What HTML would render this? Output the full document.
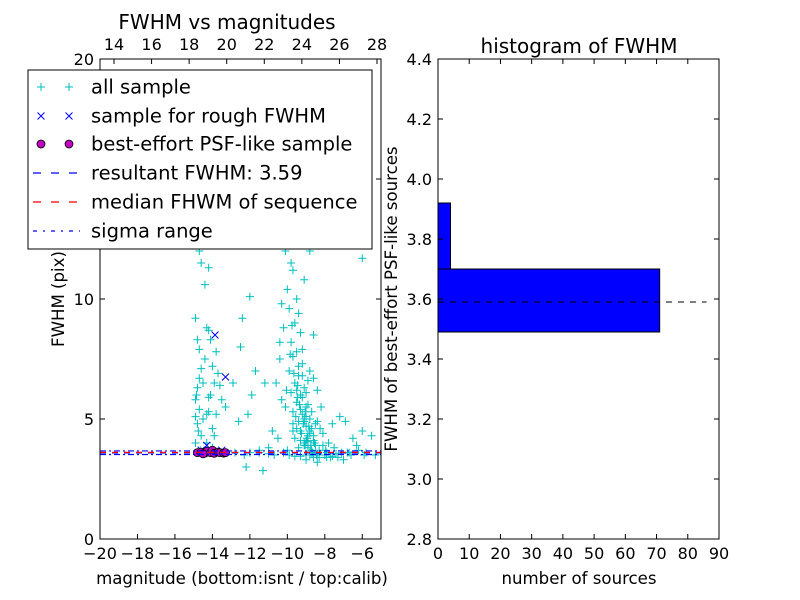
<!DOCTYPE html>
<html><head><meta charset="utf-8"><style>
body{margin:0;background:#fff;}
svg{display:block;font-family:"DejaVu Sans","Liberation Sans",sans-serif;}
</style></head><body>
<svg id="chart" width="800" height="600" viewBox="0 0 800 600">
<rect x="0" y="0" width="800" height="600" fill="#fff"/>
<g id="left"></g>
<g id="right"></g>
</svg>
<script>
const NS="http://www.w3.org/2000/svg";
// ---- data: left panel ----
const allMag=[-14.7,-14.6,-14.9,-14.8,-14.7,-14.5,-14.8,-14.9,-14.7,-14.8,-14.6,-14.9,-14.3,-14.2,-14.1,-13.8,-14.0,-14.4,-13.9,-14.1,-13.6,-13.5,-14.3,-13.8,-14.0,-13.3,-14.2,-14.5,-14.6,-13.7,-14.3,-14.4,-14.2,
-12.0,-12.5,-11.7,-12.4,-11.9,-12.1,-11.2,-12.6,-12.2,-11.5,-11.3,-12.9,
-10.1,-9.8,-9.7,-10.0,-9.5,-9.9,-9.4,-9.6,-10.2,-9.3,-9.8,-9.5,-9.7,-9.2,-9.9,-9.4,-9.6,-9.1,-9.8,-9.3,-9.5,-9.0,-9.7,-9.2,-8.8,-9.4,-9.0,-8.7,-9.3,-8.9,-9.6,-8.6,-9.1,-8.5,-8.9,-8.3,-9.4,-8.1,-7.8,-7.5,-8.0,-7.3,-8.6,-9.0,-7.0,-6.5,-6.3,-6.0,-6.8,-7.6,-8.2,-8.4,-8.8,-8.6,-10.5,-10.3,-10.6,-10.4,-10.8,-11.0,-10.0,-10.7,-11.5,-12.8,-12.3,-9.2,-9.0,-8.9,-9.1,-8.7,-9.5,-9.3,-8.8,-9.7,-10.1,-10.3,-9.1,-8.8,-6.0,-5.5,-5.3,-6.2,-5.8,-7.2,-6.9,-8.4,
-9.2,-9.0,-8.8,-9.4,-8.5,-9.1,-8.9,-8.7,-9.3,-8.6,-9.0,-8.4,-9.5,-9.2,-8.7,-9.0,-8.3,-8.8,-9.1,-8.6,-10.2,-9.9,-7.9,-7.7,-8.1,-6.6,-7.1,-12.0,-11.0,-10.2,-9.6,-8.0,-7.4,-6.7,-5.9,
-9.35,-9.15,-8.95,-8.75,-9.45,-9.05,-8.85,-9.25,-8.65,-8.45,-9.55,-9.65,-8.55,-8.25,-7.95,-9.85,-9.75,-10.05,-9.45,-9.05,-8.8,-9.3,-8.9,-8.4,-7.6,-7.9,-9.7,-10.4,-14.85,-14.75,-14.65,-14.9,-14.7,-13.9,-14.2,-14.0];
const allFwhm=[12.0,11.5,9.2,8.3,7.9,6.5,6.3,5.8,5.4,4.8,4.3,4.0,8.8,8.7,8.3,7.8,7.2,7.5,6.5,6.0,6.4,5.8,5.2,5.2,4.6,5.5,5.9,5.0,7.1,6.9,4.0,10.6,11.3,
10.1,8.0,7.0,9.2,6.0,5.2,6.5,4.9,3.0,3.7,2.85,6.5,
12.0,11.5,11.2,10.4,10.0,9.6,9.4,9.0,8.8,8.6,8.2,7.8,7.6,7.3,7.0,6.8,6.5,6.3,6.1,6.0,5.7,5.5,5.3,5.2,5.0,4.9,4.7,4.6,4.5,4.3,4.2,4.1,4.0,3.9,3.8,3.7,3.8,4.4,4.0,3.8,3.5,3.4,3.4,3.3,3.3,4.2,3.9,4.5,3.6,4.8,5.5,6.2,7.0,8.5,4.2,5.8,6.5,7.5,4.5,3.8,3.7,3.5,3.6,3.6,3.5,6.8,6.1,5.6,4.9,5.3,4.6,4.1,4.5,4.8,5.5,9.8,10.8,12.0,11.7,4.3,3.5,3.7,3.6,5.1,4.9,3.2,
5.9,5.1,4.4,7.2,4.8,3.9,6.6,3.6,5.4,4.3,3.5,4.9,6.2,7.9,3.7,4.1,3.4,3.5,5.0,6.7,3.6,3.5,3.6,3.4,3.9,3.5,3.6,3.6,3.55,3.6,3.45,3.5,3.55,3.6,3.5,
5.6,4.8,4.2,3.9,6.4,5.3,4.7,4.4,3.6,3.5,5.1,6.9,4.0,4.6,3.7,7.7,8.9,6.2,5.9,3.9,3.6,3.45,4.05,3.55,3.45,3.4,4.5,8.2,6.0,4.5,3.7,5.1,6.7,4.3,5.3,3.8];
const roughMag=[-13.86,-13.3,-14.3,-14.6,-13.5];
const roughFwhm=[8.5,6.75,3.9,3.7,3.7];
const bestMag=[-14.8,-14.6,-14.4,-14.3,-14.1,-14.0,-13.9,-13.7,-13.6,-13.4,-13.3,-14.5];
const bestFwhm=[3.6,3.62,3.58,3.65,3.6,3.7,3.57,3.62,3.6,3.58,3.6,3.55];
const resultFwhm=3.59, medianFwhm=3.61, sigmaLo=3.52, sigmaHi=3.67;
const xTicks=[-20,-18,-16,-14,-12,-10,-8,-6];
const yTicks=[0,5,10,15,20];
const topTicks=[14,16,18,20,22,24,26,28];
// ---- data: histogram ----
const binEdges=[3.49,3.70,3.92];
const binCounts=[71,4];
const hxTicks=[0,10,20,30,40,50,60,70,80,90];
const hyTicks=[2.8,3.0,3.2,3.4,3.6,3.8,4.0,4.2,4.4];
const hLineEnd=86;

function el(tag,attrs,parent,text){const e=document.createElementNS(NS,tag);for(const k in attrs)e.setAttribute(k,attrs[k]);if(text!==undefined)e.textContent=text;parent.appendChild(e);return e;}
const L={x0:100,x1:381,y0:539,y1:59};
const lx=m=>L.x0+(m+20)/15*(L.x1-L.x0);
const ly=f=>L.y0-f/20*(L.y0-L.y1);
const tx=t=>114+(t-14)*(377-114)/14;
const gl=document.getElementById('left');
allMag.forEach((m,i)=>{const x=lx(m),y=ly(allFwhm[i]);
 const p=el('path',{d:`M${x-4},${y}h8M${x},${y-4}v8`,stroke:'#00bfbf','stroke-width':1},gl);
 
 });
roughMag.forEach((m,i)=>{const x=lx(m),y=ly(roughFwhm[i]);
 const p=el('path',{d:`M${x-3.5},${y-3.5}l7,7M${x-3.5},${y+3.5}l7,-7`,stroke:'#0000ff','stroke-width':1},gl);
 
 });
bestMag.forEach((m,i)=>{
 const c=el('circle',{cx:lx(m),cy:ly(bestFwhm[i]),r:4,fill:'#bf00bf',stroke:'#000','stroke-width':0.8},gl);
 
 });
function hline(v,col,dash,name){const l=el('line',{x1:L.x0,x2:L.x1,y1:ly(v),y2:ly(v),stroke:col,'stroke-width':1.2,'stroke-dasharray':dash},gl);
 
 }
hline(sigmaLo,'#0000ff','6 3 2 3','sigma-low-line');
hline(sigmaHi,'#0000ff','6 3 2 3','sigma-high-line');
hline(resultFwhm,'#0000ff','6 6','resultant-fwhm-line');
hline(medianFwhm,'#ff0000','6 6','median-fwhm-line');
const fr=el('rect',{x:L.x0,y:L.y1,width:L.x1-L.x0,height:L.y0-L.y1,fill:'none',stroke:'#000','stroke-width':1},gl);


xTicks.forEach(t=>{const x=lx(t);el('path',{d:`M${x},${L.y0}v-5`,stroke:'#000'},gl);
 const s=el('text',{x:x,y:559,'text-anchor':'middle','font-size':16},gl,t<0?'\u2212'+(-t):t);
 
 });
yTicks.forEach(t=>{const y=ly(t);el('path',{d:`M${L.x0},${y}h5M${L.x1},${y}h-5`,stroke:'#000'},gl);
 const s=el('text',{x:94,y:y+6,'text-anchor':'end','font-size':16},gl,t);
 
 });
topTicks.forEach(t=>{const x=tx(t);el('path',{d:`M${x},${L.y1}v5`,stroke:'#000'},gl);
 const s=el('text',{x:x,y:50,'text-anchor':'middle','font-size':16},gl,t);
 
 });
let s;
s=el('text',{x:227,y:29,'text-anchor':'middle','font-size':20},gl,'FWHM vs magnitudes');

s=el('text',{x:242,y:584,'text-anchor':'middle','font-size':16.6},gl,'magnitude (bottom:isnt / top:calib)');

s=el('text',{x:0,y:0,'text-anchor':'middle','font-size':16.6,transform:'translate(64,299) rotate(-90)'},gl,'FWHM (pix)');

const lg=el('g',{},gl);
el('rect',{x:28,y:70,width:344,height:179,fill:'#fff',stroke:'#000','stroke-width':1},lg);
const legY=[87,116,144,173,202,231];
const legT=['all sample','sample for rough FWHM','best-effort PSF-like sample','resultant FWHM: 3.59','median FHWM of sequence','sigma range'];
legY.forEach((y,i)=>{
 const t=el('text',{x:91,y:y+6.5,'font-size':19.5},lg,legT[i]);
 
 [41,69].forEach(x=>{
  if(i==0)el('path',{d:`M${x-4},${y}h8M${x},${y-4}v8`,stroke:'#00bfbf'},lg);
  if(i==1)el('path',{d:`M${x-3.5},${y-3.5}l7,7M${x-3.5},${y+3.5}l7,-7`,stroke:'#0000ff'},lg);
  if(i==2)el('circle',{cx:x,cy:y,r:4,fill:'#bf00bf',stroke:'#000','stroke-width':0.8},lg);});
 if(i==3)el('line',{x1:33,x2:80,y1:y,y2:y,stroke:'#0000ff','stroke-width':1.2,'stroke-dasharray':'8 10'},lg);
 if(i==4)el('line',{x1:33,x2:80,y1:y,y2:y,stroke:'#ff0000','stroke-width':1.2,'stroke-dasharray':'8 10'},lg);
 if(i==5)el('line',{x1:33,x2:80,y1:y,y2:y,stroke:'#0000ff','stroke-width':1.2,'stroke-dasharray':'4 6 2 6'},lg);
});
const R={x0:438,x1:719,y0:539,y1:59};
const rx=c=>R.x0+c/90*(R.x1-R.x0);
const ry=v=>R.y0-(v-2.8)/1.6*(R.y0-R.y1);
const gr=document.getElementById('right');
binCounts.forEach((c,i)=>{
 const b=el('rect',{x:rx(0),y:ry(binEdges[i+1]),width:rx(c)-rx(0),height:ry(binEdges[i])-ry(binEdges[i+1]),fill:'#0000ff',stroke:'#000','stroke-width':1},gr);
 
 });
const hl=el('line',{x1:rx(0),x2:rx(hLineEnd),y1:ry(resultFwhm),y2:ry(resultFwhm),stroke:'#000','stroke-width':1,'stroke-dasharray':'6 6'},gr);

const fr2=el('rect',{x:R.x0,y:R.y1,width:R.x1-R.x0,height:R.y0-R.y1,fill:'none',stroke:'#000'},gr);

hxTicks.forEach(t=>{const x=rx(t);el('path',{d:`M${x},${R.y0}v-5M${x},${R.y1}v5`,stroke:'#000'},gr);
 const q=el('text',{x:x,y:559,'text-anchor':'middle','font-size':16},gr,t);
 });
hyTicks.forEach(t=>{const y=ry(t);el('path',{d:`M${R.x0},${y}h5M${R.x1},${y}h-5`,stroke:'#000'},gr);
 const q=el('text',{x:432,y:y+6,'text-anchor':'end','font-size':16},gr,t.toFixed(1));
 });
s=el('text',{x:579,y:53,'text-anchor':'middle','font-size':20},gr,'histogram of FWHM');

s=el('text',{x:579,y:584,'text-anchor':'middle','font-size':16.6},gr,'number of sources');

s=el('text',{x:0,y:0,'text-anchor':'middle','font-size':16.6,transform:'translate(397,299) rotate(-90)'},gr,'FWHM of best-effort PSF-like sources');

</script>
</body></html>
